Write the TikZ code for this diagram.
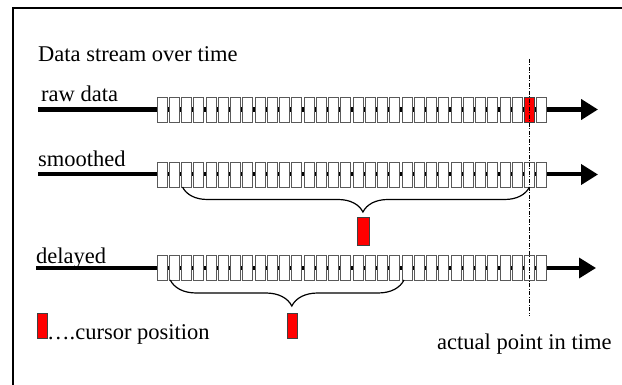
\documentclass[tikz,border=0pt]{standalone}
\usepackage{fontspec}
\setmainfont{Liberation Serif}
\newfontfamily\timesx{Liberation Serif}
\usetikzlibrary{arrows.meta,decorations.pathreplacing}
\begin{document}
\begin{tikzpicture}[x=1pt,y=-1pt,
  cell/.style={draw=black!65, fill=white, line width=0.8pt, minimum width=10pt, minimum height=25pt, inner sep=0pt, outer sep=0pt},
  cursor/.style={cell, fill=red, draw=black!75},
  lbl/.style={font=\timesx\fontsize{22.5}{24}\selectfont, anchor=base west, inner sep=0pt},
  stream/.style={-{Triangle[length=17pt,width=20pt]}},
  windowbrace/.style={decorate, decoration={brace, mirror, amplitude=#1, aspect=0.52}, line width=1.2pt},
  nowline/.style={dash pattern=on 4pt off 1.5pt on 1pt off 1.5pt, line width=0.7pt}
]
\useasboundingbox (0,0) rectangle (622,385);
% frame
\draw[line width=1.2pt] (622,8) -- (13,8) -- (13,385);

% stream lines
\coordinate (rstart) at (38,109.5);
\coordinate (rend) at (598,109.5);
\coordinate (sstart) at (38,174.5);
\coordinate (send) at (598,174.5);
\coordinate (dstart) at (36,268);
\coordinate (dend) at (596,268);
\draw[stream, line width=5pt] (rstart) -- (rend);
\draw[stream, line width=4pt] (sstart) -- (send);
\draw[stream, line width=3.5pt] (dstart) -- (dend);

% cells
\foreach \r/\y in {r/109.5, s/174.5, d/267.5}
  \foreach \i in {0,...,31}
    \node[cell] (\r\i) at ({162+12.25*\i},\y) {};
\node[cursor] (rc) at (r30) {};

% now line
\coordinate (nowtop) at (r30 |- 0,59);
\coordinate (nowbot) at (r30 |- 0,316);
\draw[nowline] (nowtop) -- (nowbot);

% windows
\node[cursor, minimum width=12pt, minimum height=28pt] (sc) at (363,231) {};
\draw[windowbrace=25pt] ([xshift=1pt]s2.south west) -- (s30.south);
\node[cursor] (dc) at (292,325.5) {};
\draw[windowbrace=26pt] ([xshift=1pt]d1.south west) -- ([xshift=2pt]d20.south west);

% legend
\node[cursor] (lc) at (42,325.5) {};

% labels
\node[lbl] (title) at (38,62) {Data stream over time};
\node[lbl] (rawl) at (41,102) {raw data};
\node[lbl] (sml) at (38,167) {smoothed};
\node[lbl] (dell) at (36,264) {delayed};
\node[lbl] (lcl) at (47,339) {….cursor position};
\node[lbl] (nowl) at (437,349) {actual point in time};
\end{tikzpicture}
\end{document}
